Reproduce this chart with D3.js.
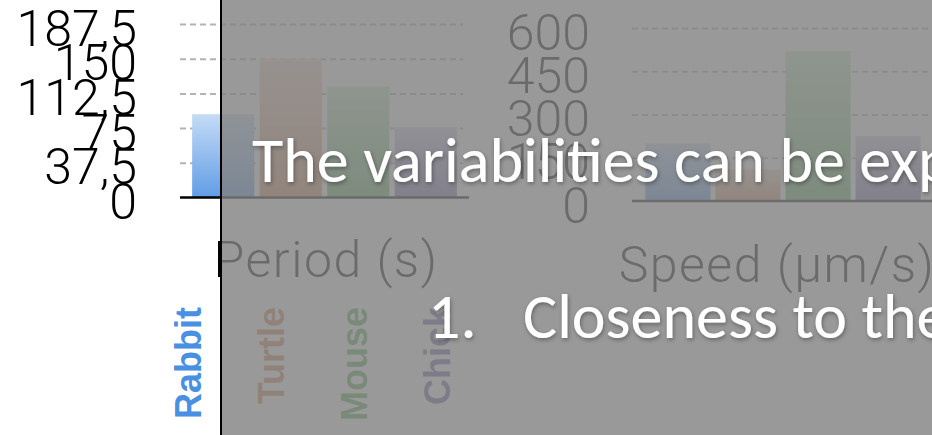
<!DOCTYPE html>
<html>
<head>
<meta charset="utf-8">
<script src="https://cdn.jsdelivr.net/npm/d3@7"></script>
<style>
  html, body { margin: 0; padding: 0; background: #fff; overflow: hidden; }
  svg { display: block; }
</style>
</head>
<body>
<svg id="chart" width="932" height="435"></svg>
<script>
// ---- data ----
const categories = ["Rabbit", "Turtle", "Mouse", "Chick"];
const periodValues = [90, 150, 120, 76];
const speedValues = [200, 110, 520, 225];
const periodTicks = [0, 37.5, 75, 112.5, 150, 187.5];
const speedTicks = [0, 150, 300, 450, 600];
const categoryColors = ["#4A90E2", "#D08050", "#4FAA50", "#6F62A8"];
const periodTitle = "Period (s)";
const speedTitle = "Speed (µm/s)";
const slideHeading = "The variabilities can be explained by";
const slideBullets = ["Closeness to the"];

const W = 932, H = 435;
const svg = d3.select("#chart");
const defs = svg.append("defs");

const numberFormat = d3.formatLocale({
  decimal: ",", thousands: ".", grouping: [3], currency: ["", ""]
}).format("~f");

const colorOf = d3.scaleOrdinal().domain(categories).range(categoryColors);

// vertical gradient per category: pale at the top, saturated at the bottom
categories.forEach((c, i) => {
  const g = defs.append("linearGradient")
    .attr("id", "grad" + i).attr("x1", 0).attr("y1", 0).attr("x2", 0).attr("y2", 1);
  g.append("stop").attr("offset", "0%").attr("stop-color", d3.interpolateRgb(colorOf(c), "#fff")(0.68));
  g.append("stop").attr("offset", "100%").attr("stop-color", d3.interpolateRgb(colorOf(c), "#fff")(0.12));
});

const lightFont = "Roboto, 'Helvetica Neue', 'Liberation Sans', sans-serif";

function barPanel(opts) {
  const { values, ticks, x0, x1, y0, y1, domainMax, gridEnd, labelRight, title, titleX, titleY,
          padInner, padOuter, labelAxis } = opts;
  const x = d3.scaleBand().domain(categories).range([x0, x1])
    .paddingInner(padInner).paddingOuter(padOuter);
  const y = d3.scaleLinear().domain([0, domainMax]).range([y0, y1]);
  const g = svg.append("g");

  // dashed gridlines
  const grid = g.append("g").attr("transform", `translate(${x0},0)`)
    .call(d3.axisRight(y).tickValues(ticks.filter(t => t > 0)).tickSize(gridEnd - x0).tickFormat(""));
  grid.select(".domain").remove();
  grid.selectAll(".tick line")
    .attr("stroke", "#b3b3b3").attr("stroke-width", 2).attr("stroke-dasharray", "6,4");

  // bars
  g.selectAll("rect.bar").data(values).join("rect")
    .attr("class", "bar")
    .attr("x", (d, i) => x(categories[i]))
    .attr("width", x.bandwidth())
    .attr("y", d => y(d))
    .attr("height", d => y(0) - y(d))
    .attr("fill", (d, i) => `url(#grad${i})`);

  // baseline
  const base = g.append("g").attr("transform", `translate(0,${y(0)})`)
    .call(d3.axisBottom(x).tickSize(0).tickFormat(""));
  base.select(".domain").attr("stroke", "#000").attr("stroke-width", 2.4)
    .attr("d", `M${x0},0H${x1}`);

  // value labels on the left
  const axis = g.append("g").attr("transform", `translate(${labelRight},0)`)
    .call(d3.axisLeft(y).tickValues(ticks).tickFormat(numberFormat).tickSize(0).tickPadding(0));
  axis.select(".domain").remove();
  axis.selectAll("text")
    .attr("dy", "0.42em")
    .attr("fill", "#000")
    .style("font-family", lightFont).style("font-weight", 300).style("font-size", "50px");

  // axis title
  g.append("text").attr("x", titleX).attr("y", titleY)
    .attr("text-anchor", "middle")
    .style("font-family", lightFont).style("font-weight", 300).style("font-size", "50px")
    .style("letter-spacing", "1.5px")
    .attr("fill", "#000").text(title);

  // rotated category names
  if (labelAxis) {
    const lx = d3.scalePoint().domain(categories).range(labelAxis.range);
    g.selectAll("text.cat").data(categories).join("text")
      .attr("class", "cat")
      .attr("transform", d => `translate(${lx(d)},${labelAxis.top}) rotate(-90)`)
      .attr("text-anchor", "end")
      .style("font-family", "'Liberation Sans', Arial, Helvetica, sans-serif")
      .style("font-weight", 700).style("font-size", "36px")
      .attr("fill", d => colorOf(d))
      .text(d => d);
  }
}

barPanel({
  values: periodValues, ticks: periodTicks, domainMax: 187.5,
  x0: 180, x1: 469, y0: 197.5, y1: 24, gridEnd: 463, labelRight: 137,
  padInner: 0.08, padOuter: 0.18,
  title: periodTitle, titleX: 326, titleY: 277,
  labelAxis: { range: [201, 450], top: 307 }
});

barPanel({
  values: speedValues, ticks: speedTicks, domainMax: 600,
  x0: 632, x1: 934, y0: 201, y1: 28, gridEnd: 934, labelRight: 590,
  padInner: 0.07, padOuter: 0.19,
  title: speedTitle, titleX: 777, titleY: 282
});

// dimmed slide panel sliding over the chart
svg.append("rect").attr("x", 221).attr("y", 0).attr("width", W - 221).attr("height", H)
  .attr("fill", "rgb(131,131,131)").attr("fill-opacity", 0.82);
svg.append("line").attr("x1", 221).attr("x2", 221).attr("y1", 0).attr("y2", H)
  .attr("stroke", "#000").attr("stroke-width", 2);

// slide text with soft shadow
const shadow = defs.append("filter").attr("id", "txtShadow")
  .attr("x", "-5%").attr("y", "-20%").attr("width", "110%").attr("height", "140%");
shadow.append("feDropShadow").attr("dx", 1).attr("dy", 2).attr("stdDeviation", 2)
  .attr("flood-color", "#000").attr("flood-opacity", 0.35);

const slideFont = "Carlito, Calibri, Lato, 'Open Sans', sans-serif";
svg.append("text").attr("x", 252).attr("y", 182)
  .attr("fill", "#fff").attr("filter", "url(#txtShadow)")
  .style("font-family", slideFont).style("font-size", "64px")
  .text(slideHeading);

const bullets = svg.append("g").attr("filter", "url(#txtShadow)");
slideBullets.forEach((b, i) => {
  bullets.append("text").attr("x", 428).attr("y", 338 + i * 80)
    .attr("fill", "#fff").style("font-family", slideFont).style("font-size", "64px")
    .text((i + 1) + ".");
  bullets.append("text").attr("x", 523).attr("y", 338 + i * 80)
    .attr("fill", "#fff").style("font-family", slideFont).style("font-size", "64px")
    .text(b);
});
</script>
</body>
</html>
